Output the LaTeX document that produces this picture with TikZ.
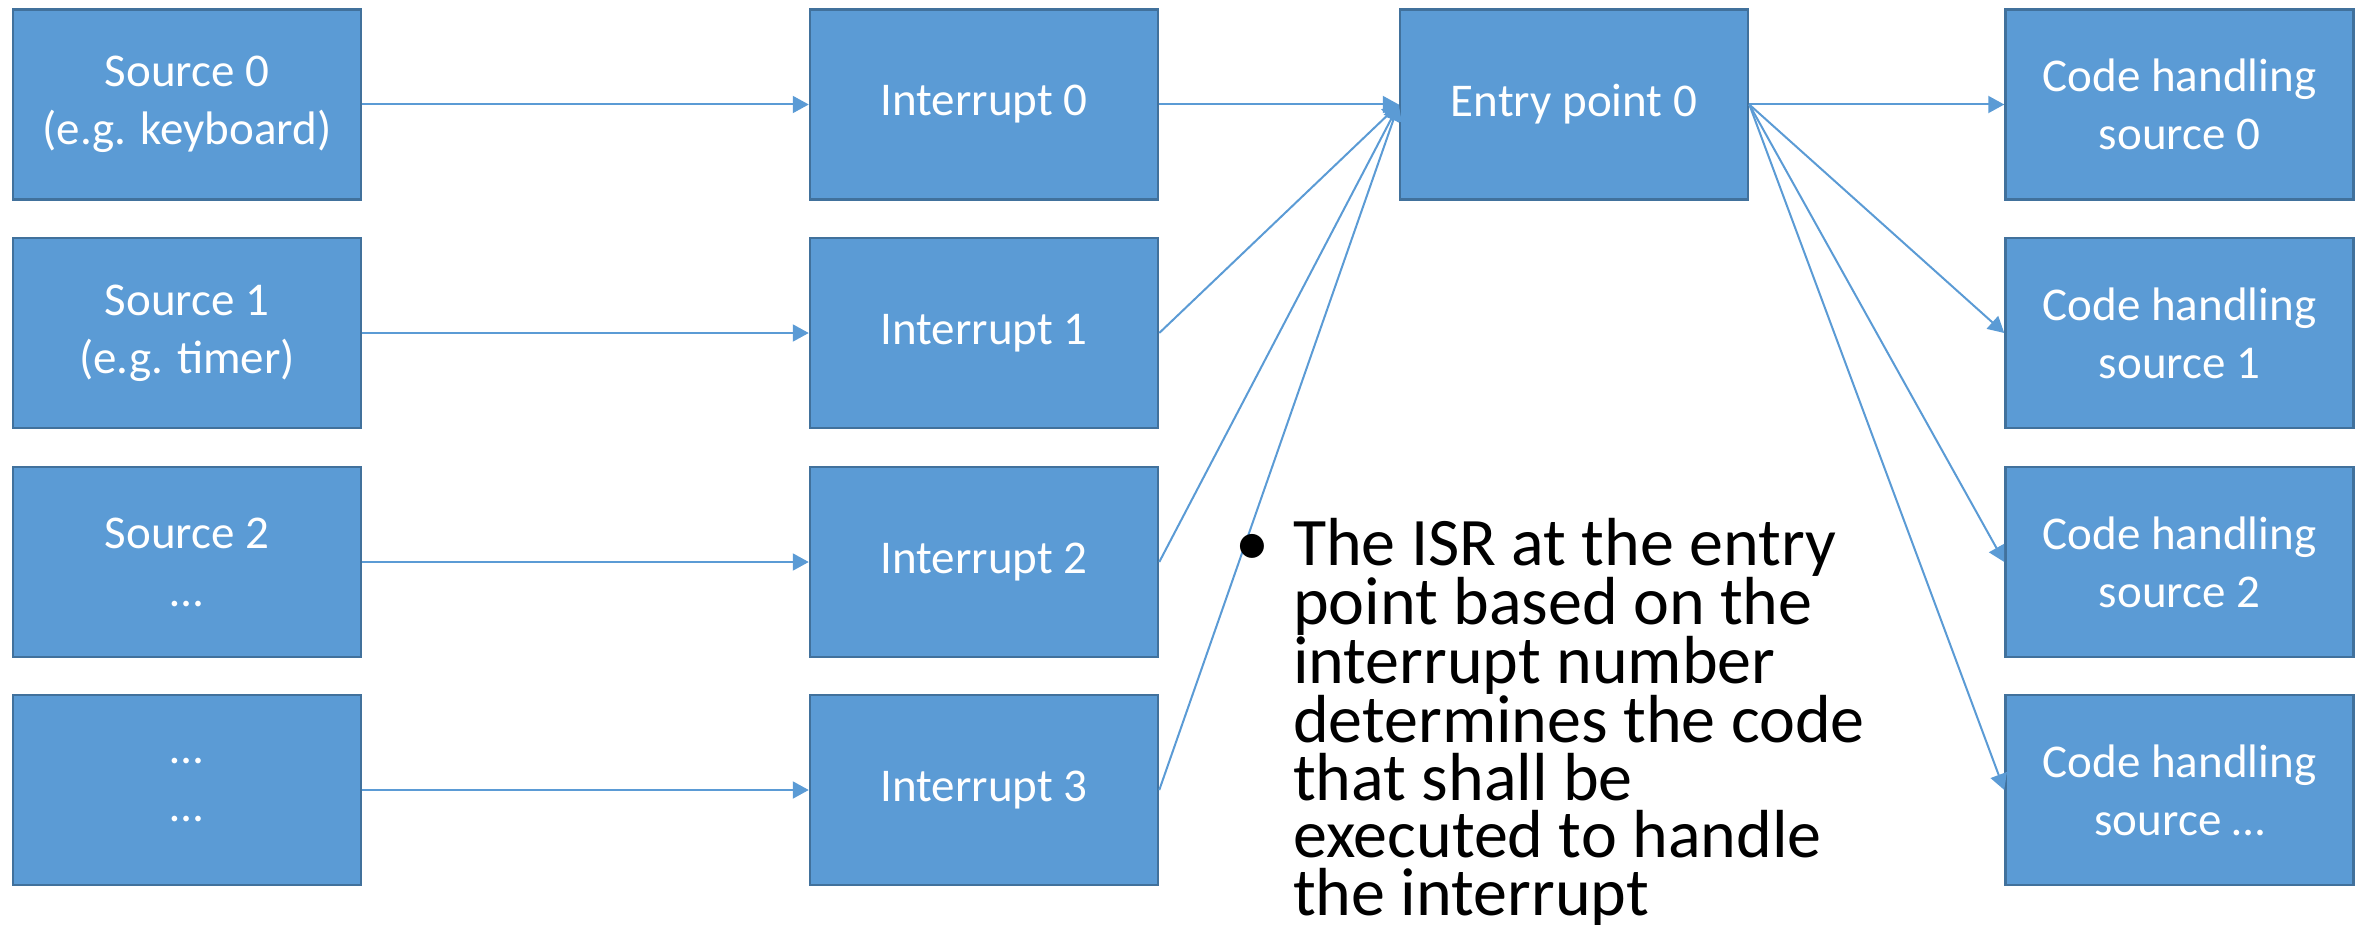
\documentclass[tikz,border=0pt]{standalone}
\usepackage{fontspec}
\setmainfont{Carlito}
\usetikzlibrary{arrows.meta}
\definecolor{boxfill}{HTML}{5B9BD5}
\definecolor{boxedge}{HTML}{41719C}
\begin{document}
\begin{tikzpicture}[x=1pt,y=-1pt,
  blk/.style={draw=boxedge, line width=2.5pt, fill=boxfill, minimum width=348pt, minimum height=190pt,
    inner sep=0pt, text=white, align=center, font=\fontsize{47}{58}\selectfont},
  conn/.style={draw=boxfill, line width=2pt, -{Triangle[length=16pt,width=17pt]}}]
\useasboundingbox (0,0) rectangle (2366,925);
% columns
\node[blk] (s0) at (187,104.5) {Source 0\\(e.g. keyboard)};
\node[blk] (s1) at (187,333) {Source 1\\(e.g. timer)};
\node[blk] (s2) at (187,562) {Source 2\\…};
\node[blk] (s3) at (187,790) {…\\…};
\node[blk] (i0) at (984,104.5) {Interrupt 0};
\node[blk] (i1) at (984,333) {Interrupt 1};
\node[blk] (i2) at (984,562) {Interrupt 2};
\node[blk] (i3) at (984,790) {Interrupt 3};
\node[blk] (e0) at (1574,104.5) {Entry point 0};
\node[blk] (c0) at (2179.5,104.5) {Code handling\\source 0};
\node[blk] (c1) at (2179.5,333) {Code handling\\source 1};
\node[blk] (c2) at (2179.5,562) {Code handling\\source 2};
\node[blk] (c3) at (2179.5,790) {Code handling\\source …};
% connectors
\foreach \k in {0,1,2,3} {\draw[conn] (s\k.east) -- (i\k.west);}
\foreach \k in {0,1,2,3} {\draw[conn] (i\k.east) -- (e0.west);}
\foreach \k in {0,1,2,3} {\draw[conn] (e0.east) -- (c\k.west);}
% text
\node[anchor=north west, inner sep=0pt, align=left, font=\fontsize{68}{57.5}\selectfont] (txt) at (1293,518)
  {\llap{•\hskip 24pt}The ISR at the entry\\point based on the\\interrupt number\\determines the code\\that shall be\\executed to handle\\the interrupt};
\end{tikzpicture}
\end{document}
